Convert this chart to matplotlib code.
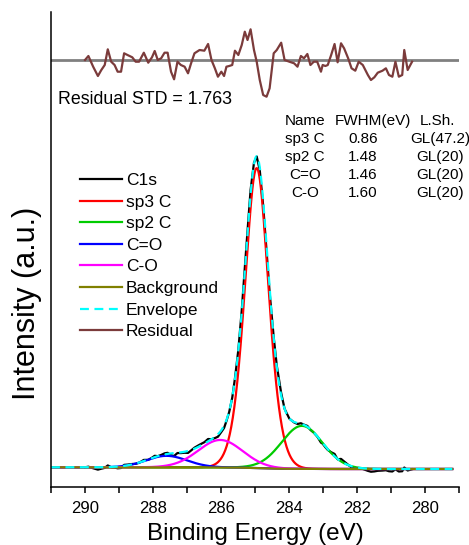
import numpy as np
import matplotlib
matplotlib.use("Agg")
import matplotlib.pyplot as plt

plt.rcParams["font.family"] = ["Liberation Sans", "DejaVu Sans"]

# fitted components (CasaXPS style GL product line shape)
peak_names = ["sp3 C", "sp2 C", "C=O", "C-O"]
peak_centers = [284.95, 283.62, 287.60, 286.02]
peak_heights = [300.0, 43.0, 11.5, 27.5]
peak_fwhm = [0.86, 1.48, 1.46, 1.60]
peak_gl = [47.2, 20, 20, 20]
peak_colors = ["#ff0000", "#00cc00", "#0000ff", "#ff00ff"]

# Shirley background end levels (high BE side, low BE side)
bg_left = 1.7
bg_right = 0.0

# residual
res_e = [290.00, 289.90, 289.76, 289.62, 289.52, 289.42, 289.33, 289.23, 289.13, 289.04,
         288.94, 288.85, 288.75, 288.61, 288.51, 288.41, 288.27, 288.14, 288.03, 287.95,
         287.86, 287.76, 287.66, 287.57, 287.47, 287.38, 287.28, 287.18, 287.07, 286.97,
         286.88, 286.78, 286.63, 286.49, 286.38, 286.28, 286.18, 286.09, 285.99, 285.91,
         285.84, 285.76, 285.67, 285.59, 285.49, 285.39, 285.30, 285.22, 285.13, 285.03,
         284.95, 284.86, 284.76, 284.66, 284.57, 284.45, 284.36, 284.23, 284.13, 283.99,
         283.85, 283.75, 283.65, 283.56, 283.46, 283.37, 283.27, 283.17, 283.06, 283.01,
         282.93, 282.86, 282.76, 282.66, 282.57, 282.47, 282.38, 282.26, 282.16, 282.05,
         281.95, 281.83, 281.68, 281.59, 281.49, 281.39, 281.25, 281.15, 281.06, 280.96,
         280.87, 280.77, 280.67, 280.61, 280.51, 280.38]
res_val = [0.0, 4.0, -6.7, -16.0, -10.0, -5.0, 10.7, -1.7, -5.0, -11.7,
           -11.7, 6.7, 5.0, 2.7, -1.7, -1.7, 7.3, -2.7, 2.7, 9.0,
           0.0, 1.7, 7.3, 7.3, -11.7, -19.3, -1.7, -5.0, -6.7, -13.3,
           -3.3, 6.7, 10.0, 9.3, 16.0, 0.0, -8.3, -16.7, -11.7, -16.0,
           -6.7, -6.0, -5.0, 9.3, 5.0, 15.0, 28.3, 20.0, 30.7, 10.0,
           -1.7, -20.0, -35.0, -36.7, -28.3, 6.7, 10.0, 17.3, 0.0, -1.7,
           -3.3, -6.7, 4.0, 1.7, 6.0, -5.0, -1.7, -1.7, -11.7, -5.0,
           -6.0, -5.0, 5.0, 16.0, -2.3, 16.7, 11.7, 1.7, -8.3, -10.7,
           -1.7, -5.0, -15.0, -20.0, -17.3, -12.7, -10.7, -8.3, -15.0, -16.7,
           -1.7, -16.7, -15.0, 10.0, -10.0, -1.7]
res_offset = 409
res_scale = 0.15   # residual is drawn magnified at the top

table_header = ["Name", "FWHM(eV)", "L.Sh."]
table_rows = [["sp3 C", "0.86", "GL(47.2)"],
              ["sp2 C", "1.48", "GL(20)"],
              ["C=O", "1.46", "GL(20)"],
              ["C-O", "1.60", "GL(20)"]]


def gl(x, c, h, f, m):
    m = m / 100.0
    u = 4.0 * (x - c) ** 2 / f ** 2
    return h * np.exp(-np.log(2) * (1 - m) * u) / (1 + m * u)


def components(x):
    return [gl(x, c, h, f, m) for c, h, f, m in
            zip(peak_centers, peak_heights, peak_fwhm, peak_gl)]


def main():
    x = np.linspace(291, 279.2, 800)
    comps = components(x)
    total = np.sum(comps, axis=0)
    # area on the low BE side of each point -> Shirley step
    cum = np.cumsum(total[::-1])[::-1]
    bg = bg_right + (bg_left - bg_right) * cum / cum[0]
    env = bg + total

    re = np.array(res_e)
    rv = np.array(res_val)
    bg_r = np.interp(re[::-1], x[::-1], bg[::-1])[::-1]
    c1s = bg_r + np.sum(components(re), axis=0) + res_scale * rv

    fig = plt.figure(figsize=(4.69, 5.45), dpi=100)
    ax = fig.add_axes([51 / 469, 1 - 487 / 545, 408 / 469, 475 / 545])

    lw = 1.6
    ax.plot(re, c1s, color="black", lw=lw, label="C1s")
    for name, comp, col in zip(peak_names, comps, peak_colors):
        ax.plot(x, bg + comp, color=col, lw=lw, label=name)
    ax.plot(x, bg, color="#808000", lw=lw, label="Background")
    ax.plot(x, env, color="#00ffff", lw=lw, ls=(0, (4, 2.5)), label="Envelope")
    ax.axhline(res_offset, color="#808080", lw=2)
    ax.plot(re, res_offset + rv, color="#7b3b3b", lw=lw, label="Residual")

    ax.set_xlim(291, 279.2)
    ax.set_ylim(-18, 457)
    ax.set_xticks(np.arange(280, 291, 2))
    ax.set_xticks(np.arange(279, 292, 1), minor=True)
    ax.tick_params(axis="x", which="major", direction="out", length=4, width=1.1,
                   labelsize=12, pad=6)
    ax.tick_params(axis="x", which="minor", direction="out", length=4, width=1.1)
    ax.tick_params(axis="y", left=False, labelleft=False)
    for s in ["top", "right"]:
        ax.spines[s].set_visible(False)
    for s in ["left", "bottom"]:
        ax.spines[s].set_linewidth(1.1)
    ax.set_xlabel("Binding Energy (eV)", fontsize=17.5, labelpad=5)
    ax.set_ylabel("Intensity (a.u.)", fontsize=22)
    ax.yaxis.set_label_coords(-0.022, (487 - 303) / 475)

    ax.text(0.017, 0.815, "Residual STD = 1.763", transform=ax.transAxes,
            fontsize=12.8, ha="left", va="center")

    # parameter table, column centres in pixels
    for cx, txt in zip([305, 373, 437], table_header):
        ax.text((cx - 51) / 408, (487 - 121) / 475, txt, transform=ax.transAxes,
                fontsize=11, ha="center", va="center")
    for i, row in enumerate(table_rows):
        yy = 139 + 18 * i
        for cx, txt in zip([305, 363, 440], row):
            ax.text((cx - 51) / 408, (487 - yy) / 475, txt, transform=ax.transAxes,
                    fontsize=11, ha="center", va="center")

    ax.legend(loc="upper left", bbox_to_anchor=(0.071, 0.661), frameon=False,
              fontsize=12.5, handlelength=2.4, handletextpad=0.25,
              labelspacing=0.37, borderpad=0, borderaxespad=0)

    fig.savefig("out.png", dpi=100)
    plt.close(fig)


if __name__ == "__main__":
    main()
